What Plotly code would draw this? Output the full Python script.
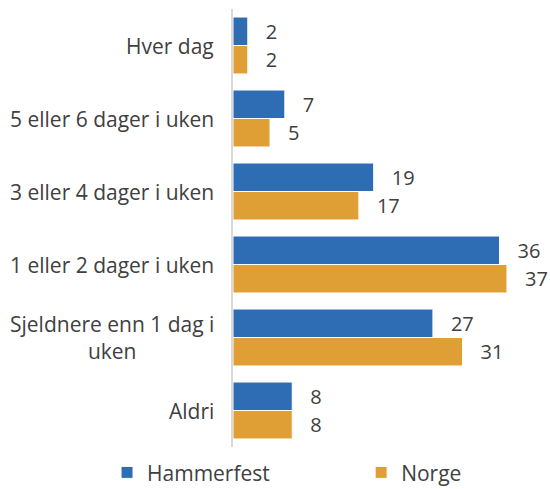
import plotly.graph_objects as go

categories = ["Hver dag", "5 eller 6 dager i uken", "3 eller 4 dager i uken",
              "1 eller 2 dager i uken", "Sjeldnere enn 1 dag i<br>uken", "Aldri"]
hammerfest = [2, 7, 19, 36, 27, 8]
norge = [2, 5, 17, 37, 31, 8]

BLUE = "#2E6DB4"
ORANGE = "#E09F35"
TXT = "#404040"
FONT = "Open Sans"

fig = go.Figure()
for name, vals, col, lg in [("Hammerfest", hammerfest, BLUE, "legend"),
                            ("Norge", norge, ORANGE, "legend2")]:
    fig.add_trace(go.Bar(
        name=name, y=categories, x=vals, orientation="h",
        marker=dict(color=col, line=dict(color="white", width=1)),
        text=vals, texttemplate="\u2002\u2005%{x}", textposition="outside",
        textfont=dict(size=20, color=TXT, family=FONT), cliponaxis=False,
        legend=lg,
    ))

# category labels as centred annotations (multi-line label is centred in reference)
for cat in categories:
    fig.add_annotation(x=0, xref="paper", y=cat, yref="y", text=cat,
                       xanchor="right", yanchor="middle", align="center",
                       showarrow=False, xshift=-17,
                       font=dict(size=21, color=TXT, family=FONT))

legend_common = dict(orientation="h", y=-0.012, yanchor="top", xanchor="left",
                     font=dict(size=21, color=TXT, family=FONT),
                     itemwidth=30, bgcolor="rgba(0,0,0,0)")
fig.update_layout(
    width=550, height=489,
    margin=dict(l=233, r=6, t=9, b=42, autoexpand=False),
    barmode="group", bargap=0.22, bargroupgap=0,
    plot_bgcolor="white", paper_bgcolor="white",
    font=dict(family=FONT, size=21, color=TXT),
    showlegend=True,
    legend=dict(x=-0.405, **legend_common),
    legend2=dict(x=0.412, **legend_common),
    uniformtext=dict(minsize=20, mode="show"),
)
fig.update_yaxes(autorange="reversed", showline=True, linecolor="#D9D9D9", linewidth=2,
                 ticks="", showgrid=False, showticklabels=False, automargin=False)
fig.update_xaxes(range=[0, 42], visible=False, showgrid=False, automargin=False)

fig.write_html("out.html", config={"displayModeBar": False},
               post_script="document.body.style.margin='0';document.body.style.padding='0';")
